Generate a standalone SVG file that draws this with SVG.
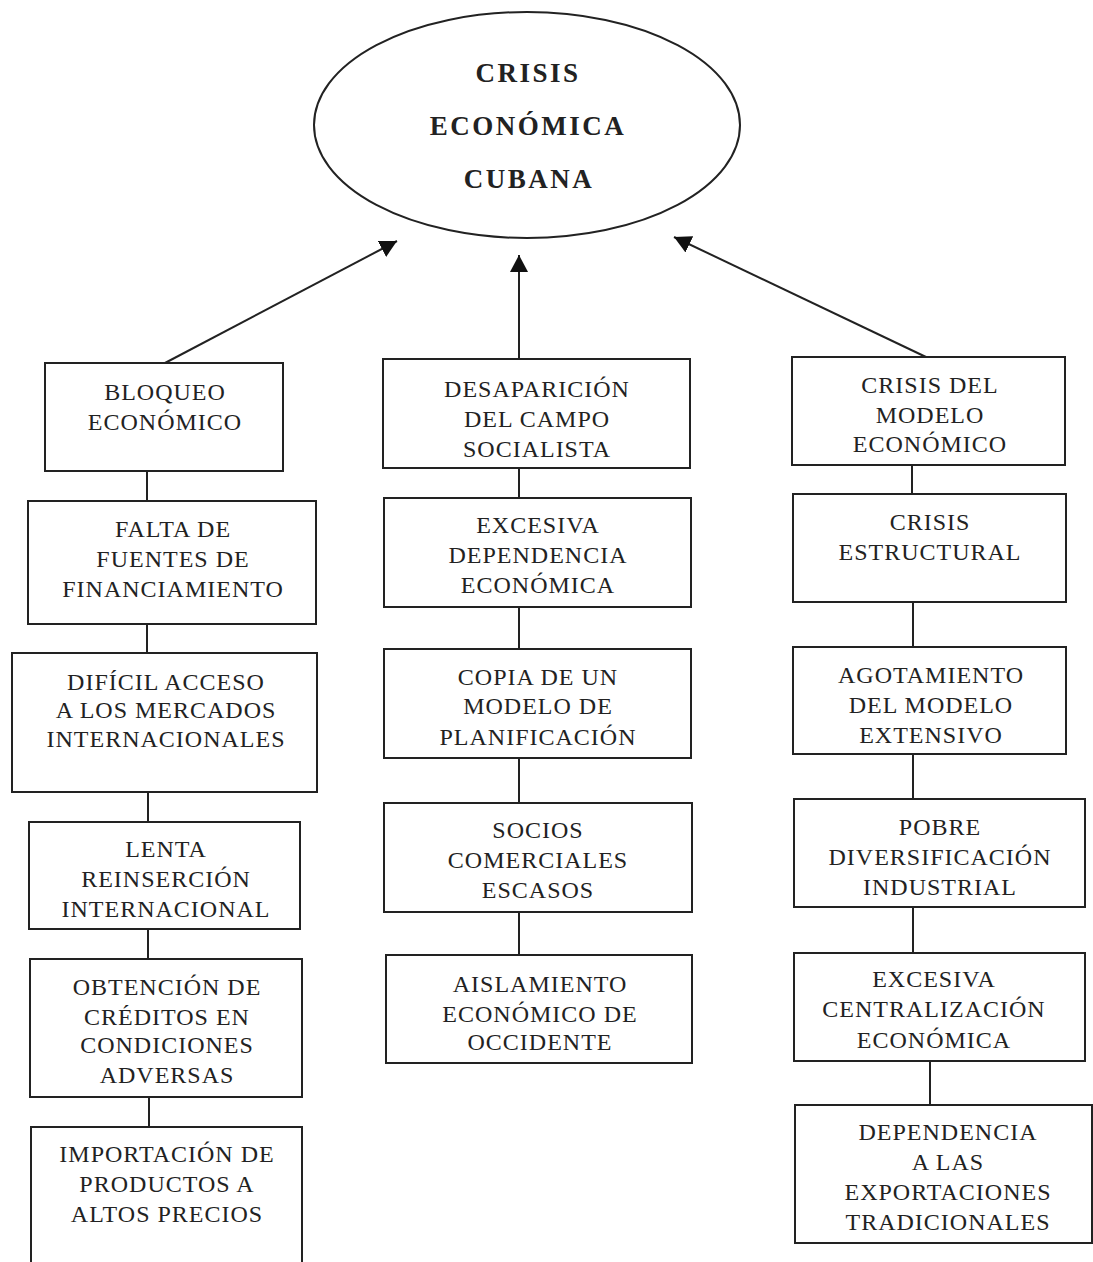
<svg xmlns="http://www.w3.org/2000/svg" width="1093" height="1262" viewBox="0 0 1093 1262">
<style>
.box{fill:none;stroke:#222;stroke-width:2}
.ln{fill:none;stroke:#222;stroke-width:2}
.t{font-family:"Liberation Serif","Times New Roman",serif;font-size:24px;letter-spacing:1px;fill:#222;text-anchor:middle}
.h{font-family:"Liberation Serif","Times New Roman",serif;font-size:27px;font-weight:bold;letter-spacing:2.5px;fill:#222;text-anchor:middle}
</style>
<defs>
<marker id="ah" markerUnits="userSpaceOnUse" markerWidth="18" markerHeight="18" refX="17" refY="9" orient="auto">
<path d="M0,0 L17,9 L0,18 z" fill="#111"/>
</marker>
</defs>
<rect width="1093" height="1262" fill="#fff"/>

<g id="connectors">
<line class="ln" x1="165" y1="363" x2="397" y2="241" marker-end="url(#ah)"/>
<line class="ln" x1="519" y1="359" x2="519" y2="255" marker-end="url(#ah)"/>
<line class="ln" x1="926" y1="357" x2="674" y2="237" marker-end="url(#ah)"/>
<line class="ln" x1="147" y1="471" x2="147" y2="501"/>
<line class="ln" x1="147" y1="624" x2="147" y2="653"/>
<line class="ln" x1="148" y1="792" x2="148" y2="822"/>
<line class="ln" x1="148" y1="929" x2="148" y2="959"/>
<line class="ln" x1="149" y1="1097" x2="149" y2="1127"/>
<line class="ln" x1="519" y1="468" x2="519" y2="498"/>
<line class="ln" x1="519" y1="607" x2="519" y2="649"/>
<line class="ln" x1="519" y1="758" x2="519" y2="803"/>
<line class="ln" x1="519" y1="912" x2="519" y2="955"/>
<line class="ln" x1="912" y1="465" x2="912" y2="494"/>
<line class="ln" x1="913" y1="602" x2="913" y2="647"/>
<line class="ln" x1="913" y1="754" x2="913" y2="799"/>
<line class="ln" x1="913" y1="907" x2="913" y2="953"/>
<line class="ln" x1="930" y1="1061" x2="930" y2="1105"/>
</g>

<g id="crisis">
<ellipse class="box" cx="527" cy="125" rx="213" ry="113"/>
<text class="h" x="528" y="82">CRISIS</text>
<text class="h" x="528" y="135">ECONÓMICA</text>
<text class="h" x="529" y="188">CUBANA</text>
</g>

<g id="bloqueo">
<rect class="box" x="45" y="363" width="238" height="108"/>
<text class="t" x="165" y="400">BLOQUEO</text>
<text class="t" x="165" y="430">ECONÓMICO</text>
</g>
<g id="falta">
<rect class="box" x="28" y="501" width="288" height="123"/>
<text class="t" x="173" y="537">FALTA DE</text>
<text class="t" x="173" y="567">FUENTES DE</text>
<text class="t" x="173" y="597">FINANCIAMIENTO</text>
</g>
<g id="dificil">
<rect class="box" x="12" y="653" width="305" height="139"/>
<text class="t" x="166" y="690">DIFÍCIL ACCESO</text>
<text class="t" x="166" y="718">A LOS MERCADOS</text>
<text class="t" x="166" y="747">INTERNACIONALES</text>
</g>
<g id="lenta">
<rect class="box" x="29" y="822" width="271" height="107"/>
<text class="t" x="166" y="857">LENTA</text>
<text class="t" x="166" y="887">REINSERCIÓN</text>
<text class="t" x="166" y="917">INTERNACIONAL</text>
</g>
<g id="obtencion">
<rect class="box" x="30" y="959" width="272" height="138"/>
<text class="t" x="167" y="995">OBTENCIÓN DE</text>
<text class="t" x="167" y="1025">CRÉDITOS EN</text>
<text class="t" x="167" y="1053">CONDICIONES</text>
<text class="t" x="167" y="1083">ADVERSAS</text>
</g>
<g id="importacion">
<rect class="box" x="31" y="1127" width="271" height="136"/>
<text class="t" x="167" y="1162">IMPORTACIÓN DE</text>
<text class="t" x="167" y="1192">PRODUCTOS A</text>
<text class="t" x="167" y="1222">ALTOS PRECIOS</text>
</g>

<g id="desaparicion">
<rect class="box" x="383" y="359" width="307" height="109"/>
<text class="t" x="537" y="397">DESAPARICIÓN</text>
<text class="t" x="537" y="427">DEL CAMPO</text>
<text class="t" x="537" y="457">SOCIALISTA</text>
</g>
<g id="dependencia-eco">
<rect class="box" x="384" y="498" width="307" height="109"/>
<text class="t" x="538" y="533">EXCESIVA</text>
<text class="t" x="538" y="563">DEPENDENCIA</text>
<text class="t" x="538" y="593">ECONÓMICA</text>
</g>
<g id="copia">
<rect class="box" x="384" y="649" width="307" height="109"/>
<text class="t" x="538" y="685">COPIA DE UN</text>
<text class="t" x="538" y="714">MODELO DE</text>
<text class="t" x="538" y="745">PLANIFICACIÓN</text>
</g>
<g id="socios">
<rect class="box" x="384" y="803" width="308" height="109"/>
<text class="t" x="538" y="838">SOCIOS</text>
<text class="t" x="538" y="868">COMERCIALES</text>
<text class="t" x="538" y="898">ESCASOS</text>
</g>
<g id="aislamiento">
<rect class="box" x="386" y="955" width="306" height="108"/>
<text class="t" x="540" y="992">AISLAMIENTO</text>
<text class="t" x="540" y="1022">ECONÓMICO DE</text>
<text class="t" x="540" y="1050">OCCIDENTE</text>
</g>

<g id="crisis-modelo">
<rect class="box" x="792" y="357" width="273" height="108"/>
<text class="t" x="930" y="393">CRISIS DEL</text>
<text class="t" x="930" y="423">MODELO</text>
<text class="t" x="930" y="452">ECONÓMICO</text>
</g>
<g id="estructural">
<rect class="box" x="793" y="494" width="273" height="108"/>
<text class="t" x="930" y="530">CRISIS</text>
<text class="t" x="930" y="560">ESTRUCTURAL</text>
</g>
<g id="agotamiento">
<rect class="box" x="793" y="647" width="273" height="107"/>
<text class="t" x="931" y="683">AGOTAMIENTO</text>
<text class="t" x="931" y="713">DEL MODELO</text>
<text class="t" x="931" y="743">EXTENSIVO</text>
</g>
<g id="pobre">
<rect class="box" x="794" y="799" width="291" height="108"/>
<text class="t" x="940" y="835">POBRE</text>
<text class="t" x="940" y="865">DIVERSIFICACIÓN</text>
<text class="t" x="940" y="895">INDUSTRIAL</text>
</g>
<g id="centralizacion">
<rect class="box" x="794" y="953" width="291" height="108"/>
<text class="t" x="934" y="987">EXCESIVA</text>
<text class="t" x="934" y="1017">CENTRALIZACIÓN</text>
<text class="t" x="934" y="1048">ECONÓMICA</text>
</g>
<g id="exportaciones">
<rect class="box" x="795" y="1105" width="297" height="138"/>
<text class="t" x="948" y="1140">DEPENDENCIA</text>
<text class="t" x="948" y="1170">A LAS</text>
<text class="t" x="948" y="1200">EXPORTACIONES</text>
<text class="t" x="948" y="1230">TRADICIONALES</text>
</g>
</svg>
